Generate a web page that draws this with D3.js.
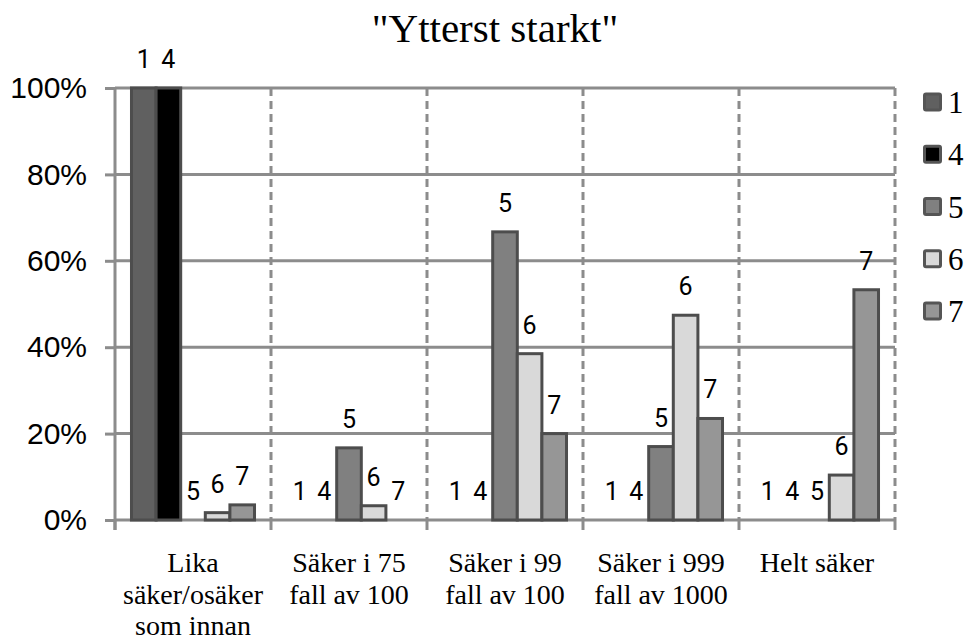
<!DOCTYPE html>
<html>
<head>
<meta charset="utf-8">
<script src="https://cdn.jsdelivr.net/npm/d3@7"></script>
<style>
  html, body { margin: 0; padding: 0; background: #fff; }
  svg { display: block; }
</style>
</head>
<body>
<svg id="chart" width="966" height="641"></svg>
<script>
// ---- data ----
const title = "\"Ytterst starkt\"";
const categories = [
  "Lika\nsäker/osäker\nsom innan",
  "Säker i 75\nfall av 100",
  "Säker i 99\nfall av 100",
  "Säker i 999\nfall av 1000",
  "Helt säker"
];
const seriesNames = ["1", "4", "5", "6", "7"];
const values1 = [1.00, 0, 0, 0, 0];
const values4 = [1.00, 0, 0, 0, 0];
const values5 = [0, 0.167, 0.667, 0.170, 0];
const values6 = [0.017, 0.033, 0.385, 0.474, 0.104];
const values7 = [0.035, 0, 0.200, 0.235, 0.533];
const seriesColors = ["#606060", "#000000", "#808080", "#d9d9d9", "#969696"];
const yTicks = [0, 0.2, 0.4, 0.6, 0.8, 1.0];

// ---- build ----
const seriesValues = [values1, values4, values5, values6, values7];
const svg = d3.select("#chart");
const plotLeft = 115, plotRight = 895, plotTop = 88, plotBottom = 520;

const x0 = d3.scaleBand().domain(categories).range([plotLeft, plotRight]).paddingInner(0).paddingOuter(0);
const x1 = d3.scaleBand().domain(seriesNames).range([0, x0.bandwidth()]).paddingInner(0).paddingOuter(0.67);
const y = d3.scaleLinear().domain([0, 1]).range([plotBottom, plotTop]);

const gridColor = "#8c8c8c";
const barStroke = "#4d4d4d";

// horizontal gridlines
svg.append("g").selectAll("line").data(yTicks).join("line")
  .attr("x1", plotLeft).attr("x2", plotRight)
  .attr("y1", d => y(d)).attr("y2", d => y(d))
  .attr("stroke", gridColor).attr("stroke-width", 3);

// vertical dashed separators
const bounds = categories.map(c => x0(c)).concat([plotRight]);
svg.append("g").selectAll("line").data(bounds.slice(1)).join("line")
  .attr("x1", d => d).attr("x2", d => d)
  .attr("y1", y(1)).attr("y2", y(0))
  .attr("stroke", gridColor).attr("stroke-width", 3)
  .attr("stroke-dasharray", "8,5");

// x ticks below baseline
svg.append("g").selectAll("line").data(bounds).join("line")
  .attr("x1", d => d).attr("x2", d => d)
  .attr("y1", y(0)).attr("y2", y(0) + 10)
  .attr("stroke", gridColor).attr("stroke-width", 3);

// y axis
const yAxis = svg.append("g")
  .attr("transform", `translate(${plotLeft},0)`)
  .call(d3.axisLeft(y).tickValues(yTicks).tickFormat(d3.format(".0%")).tickSize(10).tickPadding(18));
yAxis.select(".domain").attr("stroke", gridColor).attr("stroke-width", 3)
  .attr("d", `M0,${y(1)}V${y(0) + 10}`);
yAxis.selectAll(".tick line").attr("stroke", gridColor).attr("stroke-width", 3);
yAxis.selectAll(".tick text")
  .attr("font-family", "'Liberation Sans', Arial, sans-serif")
  .attr("font-size", 30).attr("fill", "#000");

// bars
const bars = [];
categories.forEach((c, ci) => {
  seriesNames.forEach((s, si) => {
    bars.push({ cat: c, ser: s, si: si, v: seriesValues[si][ci] });
  });
});
const barG = svg.append("g");
barG.selectAll("rect").data(bars.filter(d => d.v > 0)).join("rect")
  .attr("x", d => x0(d.cat) + x1(d.ser))
  .attr("y", d => y(d.v))
  .attr("width", x1.bandwidth())
  .attr("height", d => y(0) - y(d.v))
  .attr("fill", d => seriesColors[d.si])
  .attr("stroke", barStroke).attr("stroke-width", 3);

// bar labels (series name above every bar)
svg.append("g").selectAll("text").data(bars).join("text")
  .attr("x", d => x0(d.cat) + x1(d.ser) + x1.bandwidth() / 2)
  .attr("y", d => y(d.v) - 20)
  .attr("text-anchor", "middle")
  .attr("font-family", "Roboto, sans-serif")
  .attr("font-size", 25)
  .attr("fill", "#000")
  .text(d => d.ser);

// category labels
const catG = svg.append("g");
categories.forEach(c => {
  const lines = c.split("\n");
  const t = catG.append("text")
    .attr("text-anchor", "middle")
    .attr("font-family", "'Liberation Serif', 'Times New Roman', serif")
    .attr("font-size", 28).attr("fill", "#000");
  lines.forEach((ln, i) => {
    t.append("tspan").attr("x", x0(c) + x0.bandwidth() / 2)
      .attr("y", 572 + i * 31.5).text(ln);
  });
});

// title
svg.append("text")
  .attr("x", 495).attr("y", 42)
  .attr("text-anchor", "middle")
  .attr("font-family", "'Liberation Serif', 'Times New Roman', serif")
  .attr("font-size", 41).attr("fill", "#000")
  .text(title);

// legend
const legend = svg.append("g");
const legY = d3.scaleLinear().domain([0, seriesNames.length - 1]).range([102, 311]);
seriesNames.forEach((s, i) => {
  legend.append("rect")
    .attr("x", 924.5).attr("y", legY(i) - 8)
    .attr("width", 16).attr("height", 16)
    .attr("rx", 1.5)
    .attr("fill", seriesColors[i])
    .attr("stroke", "#555").attr("stroke-width", 3);
  legend.append("text")
    .attr("x", 948).attr("y", legY(i) + 11)
    .attr("font-family", "'Liberation Serif', 'Times New Roman', serif")
    .attr("font-size", 31).attr("fill", "#000")
    .text(s);
});
</script>
</body>
</html>
